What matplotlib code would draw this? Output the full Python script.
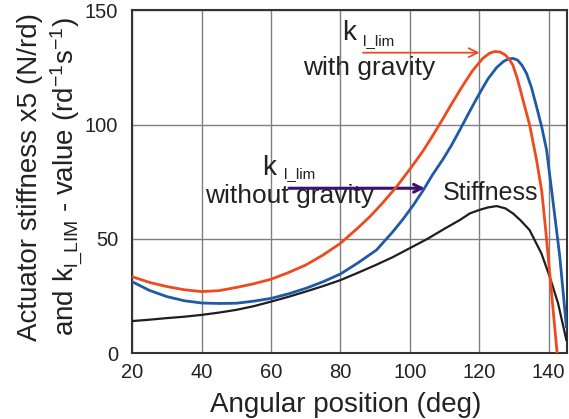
import matplotlib

matplotlib.use("Agg")
import matplotlib.pyplot as plt

plt.rcParams["font.family"] = ["Liberation Sans", "DejaVu Sans"]
plt.rcParams["mathtext.default"] = "regular"

# k_l_lim with gravity
ang_grav = [20, 25, 30, 35, 40, 45, 50, 55, 60, 65, 70, 75, 80, 85, 88.5, 92,
            96.2, 100, 103.8, 106.5, 109.1, 112, 115, 118, 121, 123, 124.5,
            126, 127.5, 128.7, 129.7, 131, 132.6, 134.5, 136.5, 138, 139.2,
            140.3, 141.4, 142.4, 143]
k_grav = [33.5, 31, 29.2, 27.8, 27, 27.4, 28.8, 30.4, 32.4, 35.3, 38.6, 43,
          48.1, 54.8, 59.8, 65.5, 72.9, 80.5, 88.5, 95, 101.5, 109, 116.5,
          123.5, 129, 131.3, 132, 131.8, 130.5, 128.5, 126, 120, 110.8, 100,
          84.6, 71, 53, 35, 17, 0.7, -8]

# k_l_lim without gravity
ang_nograv = [20, 25, 30, 35, 40, 45, 50, 55, 60, 65, 70, 75, 80, 85, 90.4,
              95, 98.1, 101, 103.8, 106.5, 109.6, 112, 114.4, 117.3, 120,
              122.5, 125, 127, 128.5, 129.7, 131, 132.3, 133.6, 135, 136.5,
              138, 139.4, 141.2, 143.2, 145.1]
k_nograv = [31.3, 27.5, 24.8, 23, 22, 21.8, 21.9, 22.8, 24, 26, 28.4, 31.3,
            34.7, 39.5, 45.2, 53, 58.8, 64.8, 71.2, 78, 85, 91, 97.7, 106,
            113.5, 120, 125, 127.7, 128.8, 129, 128.3, 126, 122.5, 116.5,
            107.9, 99, 88.9, 67, 42.3, 11.6]

# actuator stiffness x5
ang_stiff = [20, 25, 30, 35, 40, 45, 50, 55, 60, 65, 70, 75, 80, 85, 90, 95,
             99, 105, 110, 114.4, 117.3, 120, 122.5, 125, 127.5, 129.7, 132,
             134.5, 137.9, 140.3, 142.7, 145.1]
stiffness = [14.1, 14.7, 15.4, 16, 16.8, 17.8, 19, 20.6, 22.6, 24.7, 27, 29.4,
             32, 35.2, 38.5, 42, 45.2, 50, 54.5, 58.3, 61.2, 62.7, 63.8, 64.4,
             63.4, 61.2, 58, 53.9, 43.7, 33.5, 21.9, 5.8]

x_ticks = [20, 40, 60, 80, 100, 120, 140]
y_ticks = [0, 50, 100, 150]

RED = "#ee4a1e"
BLUE = "#1f5aa6"
BLACK = "#1e1e1e"
PURPLE = "#3a1270"

fig = plt.figure(figsize=(5.69, 4.19), dpi=100)
ax = fig.add_axes([0.2323, 0.1568, 0.7637, 0.8184])

ax.plot(ang_stiff, stiffness, color=BLACK, lw=1.6, zorder=3)
ax.plot(ang_nograv, k_nograv, color=BLUE, lw=2.0, zorder=3)
ax.plot(ang_grav, k_grav, color=RED, lw=2.0, zorder=4)

ax.set_xlim(20, 145.2)
ax.set_ylim(0, 150)
ax.set_xticks(x_ticks)
ax.set_yticks(y_ticks)
ax.grid(True, color="#7f7f7f", lw=1.0)
ax.set_axisbelow(True)
ax.tick_params(length=0, labelsize=14.5, labelcolor="#222222")
ax.tick_params(axis="y", pad=10)
ax.tick_params(axis="x", pad=7)
for sp in ax.spines.values():
    sp.set_color("#333333")
    sp.set_linewidth(1.5)

# curve labels with arrows
ax.text(80.4, 137, "k", fontsize=20, color="#222222")
ax.text(86.5, 135, "l_lim", fontsize=11, color="#222222")
ax.text(69.2, 121.7, "with gravity", fontsize=19, color="#222222")
ax.annotate("", xy=(120.1, 131.5), xytext=(86.5, 131.5),
            arrowprops=dict(arrowstyle="->", color=RED, lw=1.3,
                            mutation_scale=16, shrinkA=0, shrinkB=0))

ax.text(57.4, 78, "k", fontsize=20, color="#222222")
ax.text(63.7, 76.5, "l_lim", fontsize=11, color="#222222")
ax.text(41, 65.7, "without gravity", fontsize=19, color="#222222")
ax.annotate("", xy=(104.3, 72.2), xytext=(65.2, 72.2),
            arrowprops=dict(arrowstyle="->", color=PURPLE, lw=2.2,
                            mutation_scale=14, shrinkA=0, shrinkB=0))

ax.text(109.5, 67, "Stiffness", fontsize=18, color="#222222")

fig.text(346 / 569, 1 - 412 / 419, "Angular position (deg)", fontsize=20,
         ha="center", va="baseline", color="#222222")
fig.text(30 / 569, 1 - 177 / 419, "Actuator stiffness x5 (N/rd)",
         fontsize=20, rotation=90, ha="center", va="center", color="#222222")
fig.text(67 / 569, 1 - 177 / 419,
         "and k$_{l\\_LIM}$ - value (rd$^{-1}$s$^{-1}$)",
         fontsize=20, rotation=90, ha="center", va="center", color="#222222")

fig.savefig("out.png", dpi=100)
